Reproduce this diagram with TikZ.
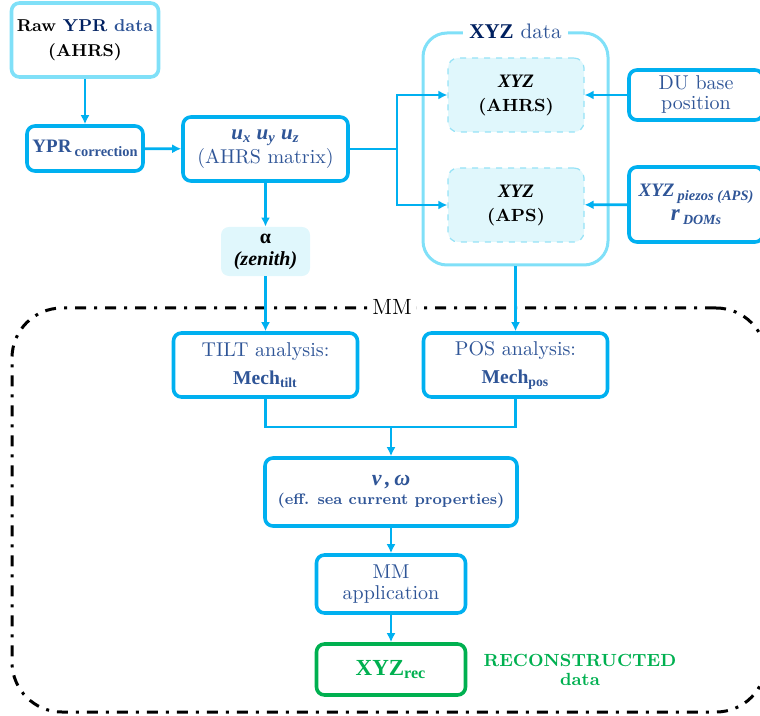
\documentclass[tikz,border=0pt]{standalone}
\usepackage{fontspec}
\newfontfamily\camfont{Liberation Serif}
\usetikzlibrary{arrows.meta,positioning,calc}
\definecolor{lineblue}{RGB}{0,176,240}
\definecolor{paleblue}{RGB}{128,224,248}
\definecolor{fillblue}{RGB}{224,247,252}
\definecolor{dashblue}{RGB}{150,226,246}
\definecolor{textblue}{RGB}{47,85,151}
\definecolor{navy}{RGB}{0,32,96}
\definecolor{recgreen}{RGB}{0,176,80}

\begin{document}
\begin{tikzpicture}[x=0.5pt,y=-0.5pt,
    box/.style={draw=lineblue, line width=1.8pt, rounded corners=4pt, align=center, text=textblue, inner sep=2pt},
    palebox/.style={box, draw=paleblue},
    inbox/.style={draw=dashblue, dashed, fill=fillblue, line width=0.6pt, rounded corners=5pt, align=center, inner sep=2pt},
    mmframe/.style={draw=black, line width=1.5pt, rounded corners=25pt, dash pattern=on 5.5pt off 4pt on 1.5pt off 4pt},
    arr/.style={draw=lineblue, line width=1.4pt, -{Latex[length=4.5pt,width=4.5pt]}},
    wire/.style={draw=lineblue, line width=1.4pt}]

    \useasboundingbox (0,0) rectangle (760,716);

    % the MM block
    \node[mmframe, minimum width=377pt, minimum height=202pt] (mm) at (389,510) {};

    % left branch: raw angles and AHRS matrix
    \node[palebox, minimum width=73.5pt, minimum height=37pt, text=black,
          font=\bfseries\fontsize{8.6}{12.5}\selectfont] (raw) at (85,40)
          {Raw \textcolor{navy}{YPR} \textcolor{textblue}{data}\\(AHRS)};
    \node[box, minimum width=58pt, minimum height=22.5pt,
          font=\camfont\bfseries\fontsize{9.5}{11}\selectfont] (ypr) at (85,148.5)
          {YPR\,{\fontsize{7.2}{8}\selectfont\raisebox{-0.5ex}{correction}}};
    \node[box, minimum width=82.5pt, minimum height=32pt,
          font=\fontsize{10}{10.5}\selectfont] (umat) at (265.5,149)
          {{\camfont\bfseries\itshape\fontsize{10.5}{10.5}\selectfont u\textsubscript{x} u\textsubscript{y} u\textsubscript{z}}\\(AHRS matrix)};
    \node[fill=fillblue, rounded corners=4pt, minimum width=44.5pt, minimum height=23.5pt,
          align=center, font=\camfont\bfseries\fontsize{10}{11}\selectfont] (alpha) at (265.5,251.5)
          {α\\{\itshape (zenith)}};

    % XYZ data block
    \node[draw=paleblue, line width=1.5pt, rounded corners=12pt,
          minimum width=92.5pt, minimum height=116pt] (xyzbox) at (515.5,149) {};
    \node[fill=white, inner sep=3pt, text=textblue, font=\fontsize{10.5}{12}\selectfont] (xyzlbl) at (xyzbox.north)
          {{\camfont\bfseries\color{navy}XYZ} data};
    \node[inbox, minimum width=68pt, minimum height=37pt,
          font=\bfseries\fontsize{8.8}{12}\selectfont] (xyzahrs) at (516,95)
          {{\camfont\itshape\fontsize{9.5}{12}\selectfont XYZ}\\(AHRS)};
    \node[inbox, minimum width=68pt, minimum height=37pt,
          font=\bfseries\fontsize{8.8}{12}\selectfont] (xyzaps) at (516,205)
          {{\camfont\itshape\fontsize{9.5}{12}\selectfont XYZ}\\(APS)};

    % external inputs
    \node[box, minimum width=67pt, minimum height=25pt,
          font=\fontsize{10}{10}\selectfont] (du) at (696,95) {DU base\\position};
    \node[box, minimum width=67pt, minimum height=37.5pt,
          font=\camfont\bfseries\itshape\fontsize{9.5}{12}\selectfont] (piezo) at (696,204.5)
          {XYZ\,{\fontsize{7.2}{8}\selectfont\raisebox{-0.6ex}{piezos (APS)}}\\
           {\fontsize{11.5}{12}\selectfont r}\,{\fontsize{7}{8}\selectfont\raisebox{-0.6ex}{DOMs}}};

    % analysis inside MM
    \node[box, minimum width=92pt, minimum height=32pt,
          font=\fontsize{10}{14}\selectfont] (tilt) at (265.5,365)
          {TILT analysis:\\{\camfont\bfseries\fontsize{9.8}{11}\selectfont Mech\textsubscript{tilt}}};
    \node[box, minimum width=92pt, minimum height=32pt,
          font=\fontsize{10}{14}\selectfont] (pos) at (515.5,365)
          {POS analysis:\\{\camfont\bfseries\fontsize{9.8}{11}\selectfont Mech\textsubscript{pos}}};
    \node[box, minimum width=126pt, minimum height=34pt,
          font=\bfseries\fontsize{7.6}{9.5}\selectfont] (vw) at (391,492)
          {{\camfont\itshape\fontsize{11}{11}\selectfont v\,,\,ω}\\(eff. sea current properties)};
    \node[box, minimum width=74.5pt, minimum height=29pt,
          font=\fontsize{10}{10.5}\selectfont] (mmapp) at (391,584) {MM\\application};
    \node[box, draw=recgreen, text=recgreen, minimum width=74.5pt, minimum height=25.5pt,
          font=\camfont\bfseries\fontsize{11.5}{13}\selectfont] (rec) at (391,669.5)
          {XYZ\textsubscript{rec}};
    \node[right=8pt of rec, inner sep=0pt, align=center, text=recgreen,
          font=\bfseries\fontsize{8.8}{9.5}\selectfont] (recon) {RECONSTRUCTED\\data};

    \node[fill=white, inner sep=2pt, font=\fontsize{11}{12}\selectfont] (mmlbl)
          at ([xshift=1.5pt]mm.north) {MM};

    % connectors
    \coordinate (fork) at (397,149);
    \coordinate (join) at (391,427);

    \foreach \s/ \d in {raw/ypr, ypr/umat, umat/alpha, alpha/tilt, xyzbox/pos,
                        du/xyzahrs, piezo/xyzaps, join/vw, vw/mmapp, mmapp/rec}{
        \draw[arr] (\s) -- (\d);
    }
    \draw[wire] (umat) -- (fork);
    \draw[arr] (fork) |- (xyzahrs);
    \draw[arr] (fork) |- (xyzaps);
    \draw[wire] (tilt) |- (join) -| (pos);
\end{tikzpicture}
\end{document}
